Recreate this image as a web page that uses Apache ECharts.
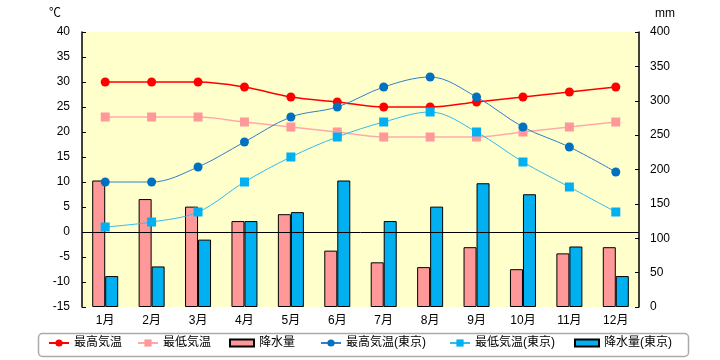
<!DOCTYPE html>
<html><head><meta charset="utf-8">
<script src="https://cdn.jsdelivr.net/npm/echarts@6/dist/echarts.min.js"></script>
<style>html,body{margin:0;padding:0;background:#fff}#c{width:720px;height:360px}</style>
</head><body><div id="c"></div>
<script>
const months = ['1月','2月','3月','4月','5月','6月','7月','8月','9月','10月','11月','12月'];
const maxTemp = [30,30,30,29,27,26,25,25,26,27,28,29];
const minTemp = [23,23,23,22,21,20,19,19,19,20,21,22];
const rain = [184,157,146,125,135,82,65,58,87,55,78,87];
const maxTempTokyo = [10,10,13,18,23,25,29,31,27,21,17,12];
const minTempTokyo = [1,2,4,10,15,19,22,24,20,14,9,4];
const rainTokyo = [45,59,98,125,138,184,125,146,180,164,88,45];
const names = ['最高気温','最低気温','降水量','最高気温(東京)','最低気温(東京)','降水量(東京)'];
const legendLeft = [48,137,231,320,449,576];

const font = '"Liberation Sans", "Noto Sans CJK JP", sans-serif';
const chart = echarts.init(document.getElementById('c'));
const smoothVal = 0.35;
chart.setOption({
  animation:false,
  textStyle:{fontFamily:font,color:'#000'},
  grid:{left:82,right:81,top:32,bottom:53,show:true,backgroundColor:'#FFFFCC',borderWidth:0},
  legend: names.map((n,i)=>({
    data:[ (i===2||i===5) ? {name:n,icon:'rect'} : n ],
    left:legendLeft[i]-(i===2||i===5?2:0), top:337,
    itemWidth:(i===2||i===5)?24:20, itemHeight:(i===2||i===5)?7:9, itemGap:4,
    textStyle:{fontSize:12,color:'#000',fontFamily:font}, padding:0
  })),
  graphic:[
    {type:'rect',shape:{x:38.5,y:333.5,width:650,height:23,r:4},style:{fill:'none',stroke:'#aaaaaa',lineWidth:1.5},z:-1},
    {type:'text',left:49,top:8,style:{text:'℃',font:'12px '+font,fill:'#000'}},
    {type:'text',left:655,top:8,style:{text:'mm',font:'12px '+font,fill:'#000'}}
  ],
  xAxis:{type:'category',data:months,boundaryGap:true,
    axisLine:{show:false},axisTick:{show:false},
    axisLabel:{fontSize:12,color:'#000',margin:8}},
  yAxis:[
    {type:'value',min:-15,max:40,interval:5,position:'left',
      axisLine:{show:true,onZero:false,lineStyle:{color:'#000',width:1.5}},
      axisTick:{show:true,inside:true,length:4,lineStyle:{color:'#000'}},
      splitLine:{show:false},
      axisLabel:{fontSize:12,color:'#000',margin:12}},
    {type:'value',min:0,max:400,interval:50,position:'right',
      axisLine:{show:true,onZero:false,lineStyle:{color:'#000',width:1.5}},
      axisTick:{show:true,inside:true,length:4,lineStyle:{color:'#000'}},
      splitLine:{show:false},
      axisLabel:{fontSize:12,color:'#000',margin:11}}
  ],
  series:[
    {name:names[2],type:'bar',yAxisIndex:1,data:rain,barWidth:13,barGap:'0%',
      itemStyle:{color:'#FF9999',borderColor:'#000',borderWidth:1}},
    {name:names[5],type:'bar',yAxisIndex:1,data:rainTokyo,barWidth:13,barGap:'0%',
      itemStyle:{color:'#00B0F0',borderColor:'#000',borderWidth:1}},
    {name:names[1],type:'line',yAxisIndex:0,data:minTemp,smooth:smoothVal,
      symbol:'rect',symbolSize:9,itemStyle:{color:'#FF9999'},lineStyle:{color:'#FFAAAA',width:1.5},
      markLine:{silent:true,symbol:'none',label:{show:false},
        lineStyle:{color:'#000',width:1,type:'solid'},data:[{yAxis:0}]}},
    {name:names[0],type:'line',yAxisIndex:0,data:maxTemp,smooth:smoothVal,
      symbol:'circle',symbolSize:9,itemStyle:{color:'#FF0000'},lineStyle:{color:'#FF0000',width:1.5}},
    {name:names[4],type:'line',yAxisIndex:0,data:minTempTokyo,smooth:smoothVal,
      symbol:'rect',symbolSize:9,itemStyle:{color:'#00B0F0'},lineStyle:{color:'#33BBEE',width:1}},
    {name:names[3],type:'line',yAxisIndex:0,data:maxTempTokyo,smooth:smoothVal,
      symbol:'circle',symbolSize:9,itemStyle:{color:'#0070C0'},lineStyle:{color:'#2F80C8',width:1}}
  ]
});
</script></body></html>
